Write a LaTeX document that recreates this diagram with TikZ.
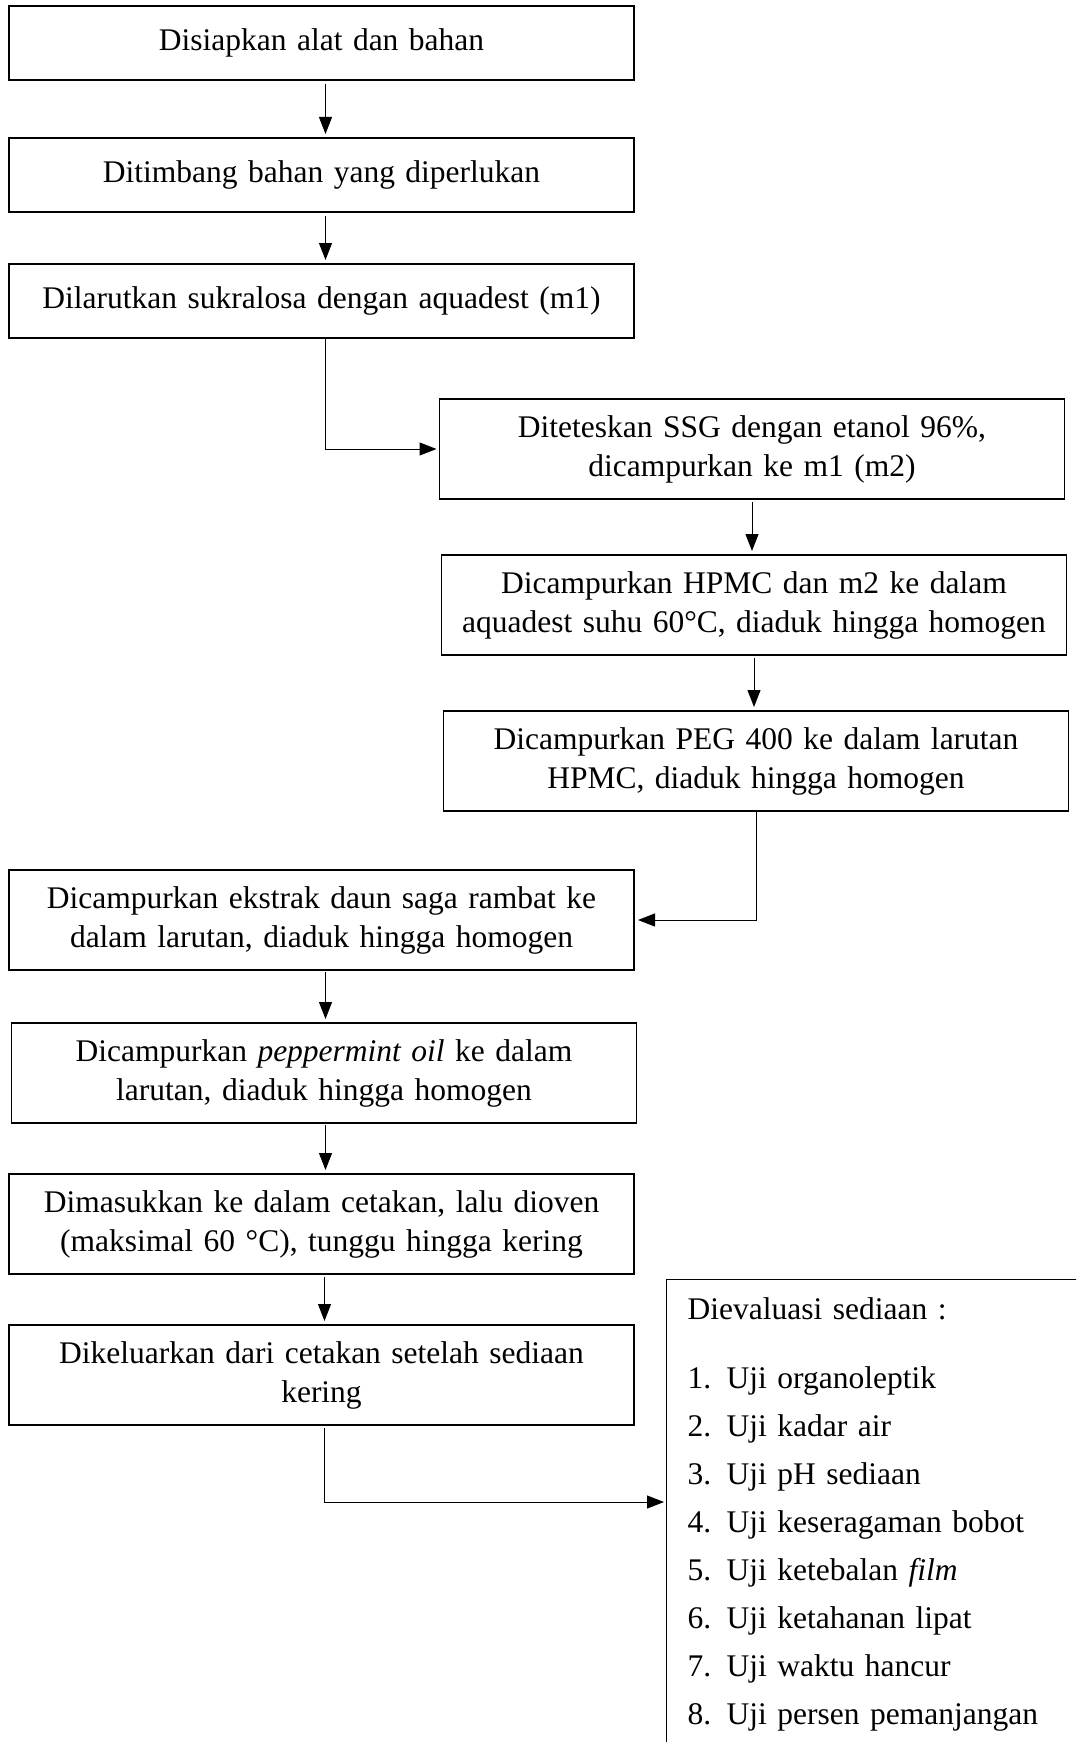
\documentclass[tikz,border=0pt]{standalone}
\usepackage{fontspec}
\setmainfont{Liberation Serif}
\usetikzlibrary{positioning, arrows.meta}

\begin{document}
\begin{tikzpicture}[x=1pt, y=-1pt,
        kotak/.style = {draw, line width=1.3pt, minimum width=625pt, text width=605pt, align=center, inner sep=0pt, outer sep=0pt, font=\fontsize{31.5pt}{39pt}\selectfont},
        pendek/.style = {kotak, minimum height=74pt},
        tinggi/.style = {kotak, minimum height=100pt},
        panah/.style = {line width=1pt, -{Triangle[length=17pt, width=13pt]}}]
        \useasboundingbox (0,0) rectangle (1076,1742);
        \clip (0,0) rectangle (1076,1742);

        \node(siap) [pendek] at (321.5,43) {Disiapkan alat dan bahan};
        \node(timbang) [pendek, below = 58pt of siap] {Ditimbang bahan yang diperlukan};
        \node(larut) [pendek, below = 52pt of timbang] {Dilarutkan sukralosa dengan aquadest (m1)};

        \node(tetes) [tinggi, below = 61pt of larut, xshift=430.5pt] {Diteteskan SSG dengan etanol 96\%,\\ dicampurkan ke m1 (m2)};
        \node(hpmc) [tinggi, below = 56pt of tetes, xshift=2pt] {Dicampurkan HPMC dan m2 ke dalam\\ aquadest suhu 60°C, diaduk hingga homogen};
        \node(peg) [tinggi, below = 56pt of hpmc, xshift=2pt] {Dicampurkan PEG 400 ke dalam larutan\\ HPMC, diaduk hingga homogen};

        \node(ekstrak) [tinggi, below = 59pt of peg, xshift=-434.5pt] {Dicampurkan ekstrak daun saga rambat ke\\ dalam larutan, diaduk hingga homogen};
        \node(pepermin) [tinggi, below = 53pt of ekstrak, xshift=2.5pt] {Dicampurkan \textit{peppermint oil} ke dalam\\ larutan, diaduk hingga homogen};
        \node(oven) [tinggi, below = 51pt of pepermin, xshift=-2.5pt] {Dimasukkan ke dalam cetakan, lalu dioven\\ (maksimal 60 °C), tunggu hingga kering};
        \node(keluar) [tinggi, below = 51pt of oven] {Dikeluarkan dari cetakan setelah sediaan\\ kering};

        % kotak evaluasi, terpotong di kanan dan bawah
        \node(evaluasi) [draw, line width=1.3pt, anchor=north west, inner xsep=21pt, inner ysep=18pt, text width=420pt, align=left, font=\fontsize{31.5pt}{48pt}\selectfont] at (666,1279) {Dievaluasi sediaan :\\[21pt]
            \makebox[39pt][l]{1.}Uji organoleptik\\
            \makebox[39pt][l]{2.}Uji kadar air\\
            \makebox[39pt][l]{3.}Uji pH sediaan\\
            \makebox[39pt][l]{4.}Uji keseragaman bobot\\
            \makebox[39pt][l]{5.}Uji ketebalan \textit{film}\\
            \makebox[39pt][l]{6.}Uji ketahanan lipat\\
            \makebox[39pt][l]{7.}Uji waktu hancur\\
            \makebox[39pt][l]{8.}Uji persen pemanjangan\\
            \mbox{}};
        \coordinate(masuk) at ([yshift=-223pt]evaluasi.north west);

        \draw[panah, shorten <=4pt, shorten >=4pt] ([xshift=4pt]siap.south) -- ([xshift=4pt]siap.south |- timbang.north);
        \draw[panah, shorten <=4pt, shorten >=4pt] ([xshift=4pt]timbang.south) -- ([xshift=4pt]timbang.south |- larut.north);
        \draw[panah, shorten >=3pt] ([xshift=4pt]larut.south) |- (tetes.west);
        \draw[panah, shorten <=3pt, shorten >=4pt] (tetes.south) -- (tetes.south |- hpmc.north);
        \draw[panah, shorten <=3pt, shorten >=4pt] (hpmc.south) -- (hpmc.south |- peg.north);
        \draw[panah, shorten >=4pt] (peg.south) |- (ekstrak.east);
        \draw[panah, shorten <=2pt, shorten >=4pt] ([xshift=4pt]ekstrak.south) -- ([xshift=4pt]ekstrak.south |- pepermin.north);
        \draw[panah, shorten <=2pt, shorten >=4pt] ([xshift=1.5pt]pepermin.south) -- ([xshift=1.5pt]pepermin.south |- oven.north);
        \draw[panah, shorten <=3pt, shorten >=4pt] ([xshift=3pt]oven.south) -- ([xshift=3pt]oven.south |- keluar.north);
        \draw[panah, shorten <=3pt, shorten >=2pt] ([xshift=3pt]keluar.south) |- (masuk);
    \end{tikzpicture}
\end{document}
